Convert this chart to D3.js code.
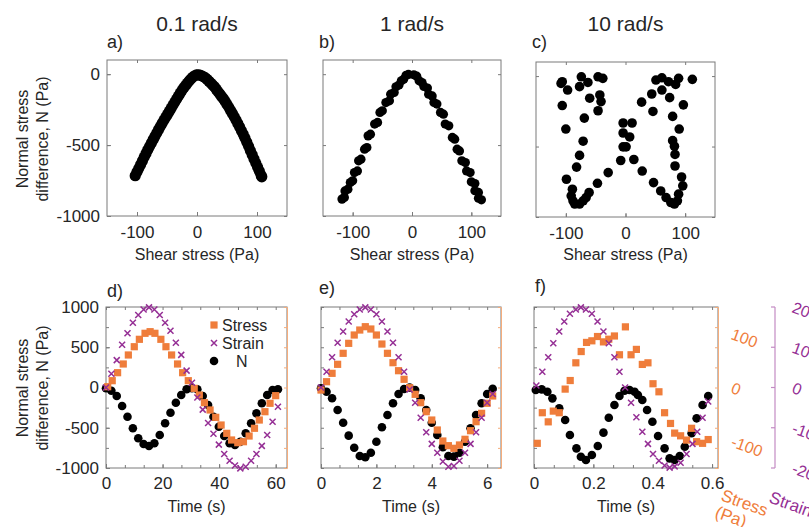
<!DOCTYPE html>
<html>
<head>
<meta charset="utf-8">
<script src="https://cdn.jsdelivr.net/npm/d3@7"></script>
<style>
  body { margin: 0; background: #fff; }
  svg text { font-family: "Liberation Sans", Arial, sans-serif; }
</style>
</head>
<body>
<svg id="fig" width="809" height="527"></svg>
<script>
// ---- data ----
const rates = ['0.1 rad/s', '1 rad/s', '10 rad/s'];
const letters = ['a)', 'b)', 'c)', 'd)', 'e)', 'f)'];

// a) 0.1 rad/s, N vs shear stress (dense band)
const aStress = [-103,-100,-97,-94,-91,-88,-85,-82,-79,-76,-73,-70,-67,-64,-61,-58,-55,-52,-49,-46,-43,-40,-37,-34,-31,-28,-25,-22,-19,-16,-13,-10,-7,-4,-1,
  2,5,8,11,14,17,20,23,26,29,32,35,38,41,44,47,50,53,56,59,62,65,68,71,74,77,80,83,86,89,92,95,98,101,104,107,108];
const aN = [-716,-690,-664,-638,-612,-585,-559,-533,-509,-485,-461,-438,-414,-390,-368,-346,-324,-303,-282,-261,-240,-218,-197,-176,-155,-134,-114,-96,-79,-63,-47,-33,-21,-11,-5,
  -4,-7,-12,-18,-26,-37,-50,-63,-76,-89,-106,-123,-140,-157,-173,-192,-213,-234,-256,-277,-299,-323,-348,-373,-398,-424,-451,-480,-509,-539,-568,-598,-627,-656,-685,-714,-724];

// b) 1 rad/s
const bStress = [-118,-114,-113,-108,-104,-100,-97,-92,-90,-86,-80,-76,-74,-70,-63,-58,-54,-50,-44,-38,-36,-30,-27,-22,-18,-14,-10,-6,
  3,8,12,17,20,26,28,34,37,42,48,53,56,62,68,72,76,80,84,90,92,98,100,106,106,112,112,117];
const bN = [-881,-869,-823,-811,-764,-752,-694,-682,-611,-599,-529,-517,-435,-423,-352,-340,-270,-258,-200,-188,-141,-129,-89,-77,-47,-35,-8,-2,
  -4,-14,-47,-59,-86,-98,-141,-153,-199,-211,-270,-282,-352,-364,-446,-458,-529,-541,-611,-623,-682,-694,-759,-771,-822,-834,-874,-886];

// c) 10 rad/s
const cStress = [-106,-108,-97,-74,-77,-63,-46,-38,-60,-43,-41,-46,-106,-69,-100,-71,-77,-82,-99,-89,-91,-88,-85,-77,-71,-66,-61,-47,-29,
  -4,11,-4,7,-4,1,-8,14,
  28,47,59,68,76,82,87,89,96,94,83,83,82,79,90,79,97,74,46,27,44,61,51,61,72,84,89,112];
const cN = [-40,-52,-99,-5,-75,-45,-5,-16,-157,-134,-181,-246,-209,-298,-376,-462,-563,-646,-732,-803,-850,-885,-908,-908,-885,-862,-826,-761,-685,
  -333,-333,-404,-432,-502,-502,-599,-592,
  -674,-756,-815,-862,-897,-908,-885,-838,-779,-716,-638,-556,-498,-458,-376,-286,-204,-153,-251,-185,-127,-99,-28,-12,-40,-59,-16,-23];

// d) 0.1 rad/s time series
const dTime = [0,1.9,3.8,5.7,7.6,9.5,11.4,13.3,15.2,17.1,19,20.9,22.8,24.7,26.6,28.5,30.4,32.3,34.2,36.1,38,39.9,41.8,43.7,45.6,47.5,49.4,51.3,53.2,55.1,57,58.9,60.8];
const dN = [-10,-40,-106,-230,-363,-507,-631,-702,-727,-693,-590,-445,-313,-189,-93,-22,-10,-22,-106,-217,-363,-487,-602,-693,-714,-673,-569,-445,-321,-196,-93,-31,-22];
const dStrain = [0,3.4,6.8,10.6,13.5,16.1,18,19.4,19.9,19.4,18,16.1,14.1,11.1,8.1,4.2,1.2,-2.5,-5.5,-8.8,-11.5,-14.2,-16.5,-18.2,-19.4,-20.1,-19.7,-18.2,-16.5,-14.5,-11.8,-8.5,-4.8];
const dStressTime = [0.6,2.2,4.1,6.1,7.9,10,11.8,13.8,15.6,17.3,19.4,21.2,23.2,25.3,27.1,29.1,31.2,33,34.8,36.8,38.8,40.7,42.7,44.4,46.6,48.6,50.6,52.5,54.2,56.2,58,60];
const dStress = [1.5,12.7,27.6,43.8,60.6,76,89.8,101,104,101,89.8,76,60.6,43.8,27.6,12.7,-1.6,-14,-28.3,-41.9,-55.6,-69.9,-85.4,-97.8,-102.8,-101,-90.4,-76,-60.6,-45.1,-29.4,-15.2];

// e) 1 rad/s time series
const eTime = [0,0.2,0.4,0.6,0.8,1,1.2,1.4,1.6,1.8,2,2.2,2.4,2.6,2.8,3,3.2,3.4,3.6,3.8,4,4.2,4.4,4.6,4.8,5,5.2,5.4,5.6,5.8,6,6.2];
const eN = [-10,-52,-134,-280,-437,-598,-748,-851,-867,-810,-673,-494,-342,-196,-81,-19,-2,-31,-134,-280,-437,-590,-743,-851,-859,-810,-673,-507,-342,-196,-81,-15];
const eStress = [-4.7,10.8,26.4,43.2,63.7,82.3,97.8,107.1,113.3,109,97.8,81,63.7,46.2,31.3,15.3,-0.4,-12.7,-28.3,-45.1,-60.6,-79.2,-99.7,-108.4,-113.3,-107.1,-96.5,-80.5,-63.7,-48.1,-29.4,-15.8];
const eStrain = [0,3.9,7.5,11.1,13.9,16.4,18.2,19.4,19.9,19.4,18.2,16.4,13.9,11.1,7.5,3.9,-0.5,-3.8,-7.5,-11.1,-14,-16.2,-18.4,-19.7,-19.5,-18.2,-16.2,-14,-11.1,-7.5,-3.8,-1.6];

// f) 10 rad/s time series
const fTime = [0.006,0.026,0.045,0.062,0.085,0.105,0.121,0.143,0.158,0.175,0.195,0.215,0.234,0.252,0.271,0.288,0.305,0.322,0.339,0.35,0.365,0.381,0.399,0.418,0.44,0.457,0.474,0.491,0.508,0.531,0.548,0.568,0.587];
const fN = [-31,-23,-52,-135,-259,-404,-590,-756,-860,-901,-839,-727,-561,-375,-217,-106,-40,-31,-52,-93,-155,-280,-425,-602,-756,-880,-901,-851,-735,-569,-383,-217,-106];
const fStressTime = [0.011,0.028,0.048,0.065,0.085,0.105,0.122,0.141,0.159,0.177,0.195,0.214,0.234,0.252,0.271,0.288,0.308,0.327,0.345,0.365,0.384,0.401,0.421,0.44,0.46,0.474,0.494,0.514,0.531,0.548,0.568,0.587];
const fStress = [-104,-47,-64,-44,-47,-3,13,46,67,84,87,95,85,90,96,61,113,61,71,43,46,7,-8,-47,-67,-85,-90,-98,-76,-101,-104,-97];
const fStrainTime = [0.008,0.028,0.048,0.065,0.085,0.102,0.121,0.141,0.158,0.175,0.195,0.214,0.234,0.252,0.271,0.288,0.307,0.327,0.345,0.365,0.384,0.401,0.421,0.44,0.457,0.474,0.494,0.514,0.534,0.55,0.568,0.587];
const fStrain = [0.5,3.9,7.5,11,13.9,16.4,18.3,19.4,19.9,19.4,18.3,16.4,13.9,11,7.5,3.9,0,-3.8,-7.4,-11,-14,-16.5,-18.2,-19.4,-19.9,-19.6,-18.7,-16.5,-14,-11,-7.5,-3.5];

// tick labels
const shearTicks = [-100, 0, 100];
const nTicksTop = [-1000, -500, 0];
const nTicksBottom = [-1000, -500, 0, 500, 1000];
const timeTicks = [[0, 20, 40, 60], [0, 2, 4, 6], [0, 0.2, 0.4, 0.6]];
const stressTicks = [-100, 0, 100];
const strainTicks = [-20, -10, 0, 10, 20];
const legendItems = ['Stress', 'Strain', 'N'];

// ---- drawing ----
const svg = d3.select('#fig');
const INK = '#262626', EDGE = '#7a7a7a';
const ORANGE = '#ef7d3b', PURPLE = '#952f95';
const ORANGE_AX = '#f5ad7c', PURPLE_AX = '#c38bc3';
const fmt = d => String(d);

function frame(x, y, o) {
  const [l, r] = x.range(), [b, t] = y.range();
  const g = svg.append('g');
  const xs = o.xMinor || o.xTicks, ys = o.yMinor || o.yTicks;
  g.append('g').attr('transform', `translate(0,${b})`)
    .call(d3.axisBottom(x).tickValues(xs).tickSize(-3).tickFormat(''));
  g.append('g').attr('transform', `translate(0,${t})`)
    .call(d3.axisTop(x).tickValues(xs).tickSize(-3).tickFormat(''));
  g.append('g').attr('transform', `translate(${l},0)`)
    .call(d3.axisLeft(y).tickValues(ys).tickSize(-3).tickFormat(''));
  if (!o.orangeRight) {
    g.append('g').attr('transform', `translate(${r},0)`)
      .call(d3.axisRight(y).tickValues(ys).tickSize(-3).tickFormat(''));
  }
  g.append('g').attr('transform', `translate(0,${b})`)
    .call(d3.axisBottom(x).tickValues(o.xTicks).tickSize(-4).tickPadding(o.xPad).tickFormat(fmt));
  if (o.yLabels) {
    g.append('g').attr('transform', `translate(${l},0)`)
      .call(d3.axisLeft(y).tickValues(o.yTicks).tickSize(-4).tickPadding(7).tickFormat(fmt));
  }
  g.selectAll('.domain').remove();
  g.selectAll('.tick line').attr('stroke', EDGE);
  g.selectAll('.tick text').attr('fill', INK).style('font-size', '17px');
  g.append('rect').attr('x', l).attr('y', t).attr('width', r - l).attr('height', b - t)
    .attr('fill', 'none').attr('stroke', EDGE).attr('stroke-width', 1);
  return g;
}

function dots(x, y, xs, ys, r) {
  svg.append('g').selectAll('circle').data(xs).join('circle')
    .attr('cx', d => x(d)).attr('cy', (d, i) => y(ys[i])).attr('r', r).attr('fill', '#000');
}
function squares(x, y, xs, ys) {
  svg.append('g').selectAll('rect').data(xs).join('rect')
    .attr('x', d => x(d) - 3.6).attr('y', (d, i) => y(ys[i]) - 3.6)
    .attr('width', 7.2).attr('height', 7.2).attr('fill', ORANGE);
}
function crosses(x, y, xs, ys) {
  svg.append('g').selectAll('path').data(xs).join('path')
    .attr('transform', (d, i) => `translate(${x(d)},${y(ys[i])})`)
    .attr('d', 'M-3,-3L3,3M-3,3L3,-3').attr('stroke', PURPLE).attr('stroke-width', 1.5).attr('fill', 'none');
}
function label(txt, x, y, size, extra) {
  const t = svg.append('text').attr('x', x).attr('y', y).attr('fill', INK).style('font-size', size + 'px').text(txt);
  if (extra) extra(t);
  return t;
}

// top row: N vs shear stress
const topBoxes = [
  { l: 107, r: 287, t: 60, b: 216, xs: aStress, ys: aN, rad: 5.6 },
  { l: 323, r: 501, t: 60, b: 216, xs: bStress, ys: bN, rad: 4.6 },
  { l: 536, r: 715, t: 62, b: 217, xs: cStress, ys: cN, rad: 4.8 }
];
topBoxes.forEach((p, i) => {
  const x = d3.scaleLinear().domain([-150, 150]).range([p.l, p.r]);
  const y = d3.scaleLinear().domain([-1000, 100]).range([p.b, p.t]);
  frame(x, y, { xTicks: shearTicks, yTicks: nTicksTop, xPad: 10, yLabels: i === 0 });
  dots(x, y, p.xs, p.ys, p.rad);
  label('Shear stress (Pa)', (p.l + p.r) / 2, 260, 16, t => t.attr('text-anchor', 'middle'));
  label(rates[i], (p.l + p.r) / 2, 31, 21, t => t.attr('text-anchor', 'middle'));
  label(letters[i], [107, 319, 532][i], 48, 18);
});

// y titles
[139, 388].forEach(cy => {
  label('Normal stress', 28, cy, 16, t => t.attr('text-anchor', 'middle').attr('transform', `rotate(-90,28,${cy})`));
  label('difference, N (Pa)', 48, cy, 16, t => t.attr('text-anchor', 'middle').attr('transform', `rotate(-90,48,${cy})`));
});

// bottom row: time series
const botBoxes = [
  { l: 106, r: 287, dom: [0, 64], step: 20 / 3, time: dTime, n: dN, sTime: dStressTime, s: dStress, gTime: dTime, g: dStrain },
  { l: 321, r: 501, dom: [0, 6.5], step: 2 / 3, time: eTime, n: eN, sTime: eTime, s: eStress, gTime: eTime, g: eStrain },
  { l: 534, r: 718, dom: [0, 0.62], step: 0.2 / 3, time: fTime, n: fN, sTime: fStressTime, s: fStress, gTime: fStrainTime, g: fStrain }
];
const T = 307, B = 468;
botBoxes.forEach((p, i) => {
  const x = d3.scaleLinear().domain(p.dom).range([p.l, p.r]);
  const y = d3.scaleLinear().domain([-1000, 1000]).range([B, T]);
  const yS = d3.scaleLinear().domain([-150, 150]).range([B, T]);
  const yG = d3.scaleLinear().domain([-20, 20]).range([B, T]);
  frame(x, y, {
    xTicks: timeTicks[i], xMinor: d3.range(0, p.dom[1], p.step), yTicks: nTicksBottom,
    yMinor: d3.range(-1000, 1001, 250), xPad: 9, yLabels: i === 0, orangeRight: true
  });
  // orange stress axis on the right edge
  const oa = svg.append('g').attr('transform', `translate(${p.r},0)`)
    .call(d3.axisRight(yS).tickValues(d3.range(-150, 151, 37.5)).tickSize(-3).tickSizeOuter(0).tickFormat(''));
  oa.select('.domain').attr('stroke', ORANGE_AX);
  oa.selectAll('.tick line').attr('stroke', ORANGE_AX);

  dots(x, y, p.time, p.n, 4.3);
  squares(x, yS, p.sTime, p.s);
  crosses(x, yG, p.gTime, p.g);

  label('Time (s)', (p.l + p.r) / 2, 512, 16, t => t.attr('text-anchor', 'middle'));
  label(letters[3 + i], [107, 319, 535][i], [297, 294, 292][i], 18);

  if (i === 2) {
    // stress tick labels
    stressTicks.forEach(v => {
      const yy = yS(v) + 5;
      svg.append('text').attr('x', 730).attr('y', yy).attr('transform', `rotate(20,730,${yy})`)
        .attr('fill', ORANGE).style('font-size', '16px').text(fmt(v));
    });
    const st = svg.append('text').attr('x', 720).attr('y', 500).attr('transform', 'rotate(20,720,500)')
      .attr('fill', ORANGE).style('font-size', '17px');
    st.append('tspan').attr('x', 720).text('Stress');
    st.append('tspan').attr('x', 720).attr('dy', '1.05em').text('(Pa)');
    // strain axis
    const sx = 775;
    svg.append('line').attr('x1', sx).attr('x2', sx).attr('y1', yG(20)).attr('y2', yG(-20))
      .attr('stroke', PURPLE_AX).attr('stroke-width', 1.2);
    svg.append('g').selectAll('line').data(strainTicks).join('line')
      .attr('x1', sx - 4).attr('x2', sx).attr('y1', d => yG(d)).attr('y2', d => yG(d))
      .attr('stroke', PURPLE_AX).attr('stroke-width', 1.2);
    strainTicks.forEach(v => {
      const yy = yG(v) + 5;
      svg.append('text').attr('x', 791).attr('y', yy).attr('transform', `rotate(20,791,${yy})`)
        .attr('fill', PURPLE).style('font-size', '16px').text(fmt(v));
    });
    svg.append('text').attr('x', 768).attr('y', 502).attr('transform', 'rotate(20,768,502)')
      .attr('fill', PURPLE).style('font-size', '17px').text('Strain');
  }

  if (i === 0) {
    // legend
    const lx = 214, ly = [325, 343, 361];
    svg.append('rect').attr('x', lx - 3.6).attr('y', ly[0] - 3.6).attr('width', 7.2).attr('height', 7.2).attr('fill', ORANGE);
    svg.append('path').attr('transform', `translate(${lx},${ly[1]})`).attr('d', 'M-3,-3L3,3M-3,3L3,-3')
      .attr('stroke', PURPLE).attr('stroke-width', 1.5);
    svg.append('circle').attr('cx', lx).attr('cy', ly[2]).attr('r', 4.3).attr('fill', '#000');
    legendItems.forEach((txt, k) => {
      label(txt, k === 2 ? 236 : 222, ly[k] + 5.5, 16);
    });
  }
});
</script>
</body>
</html>
